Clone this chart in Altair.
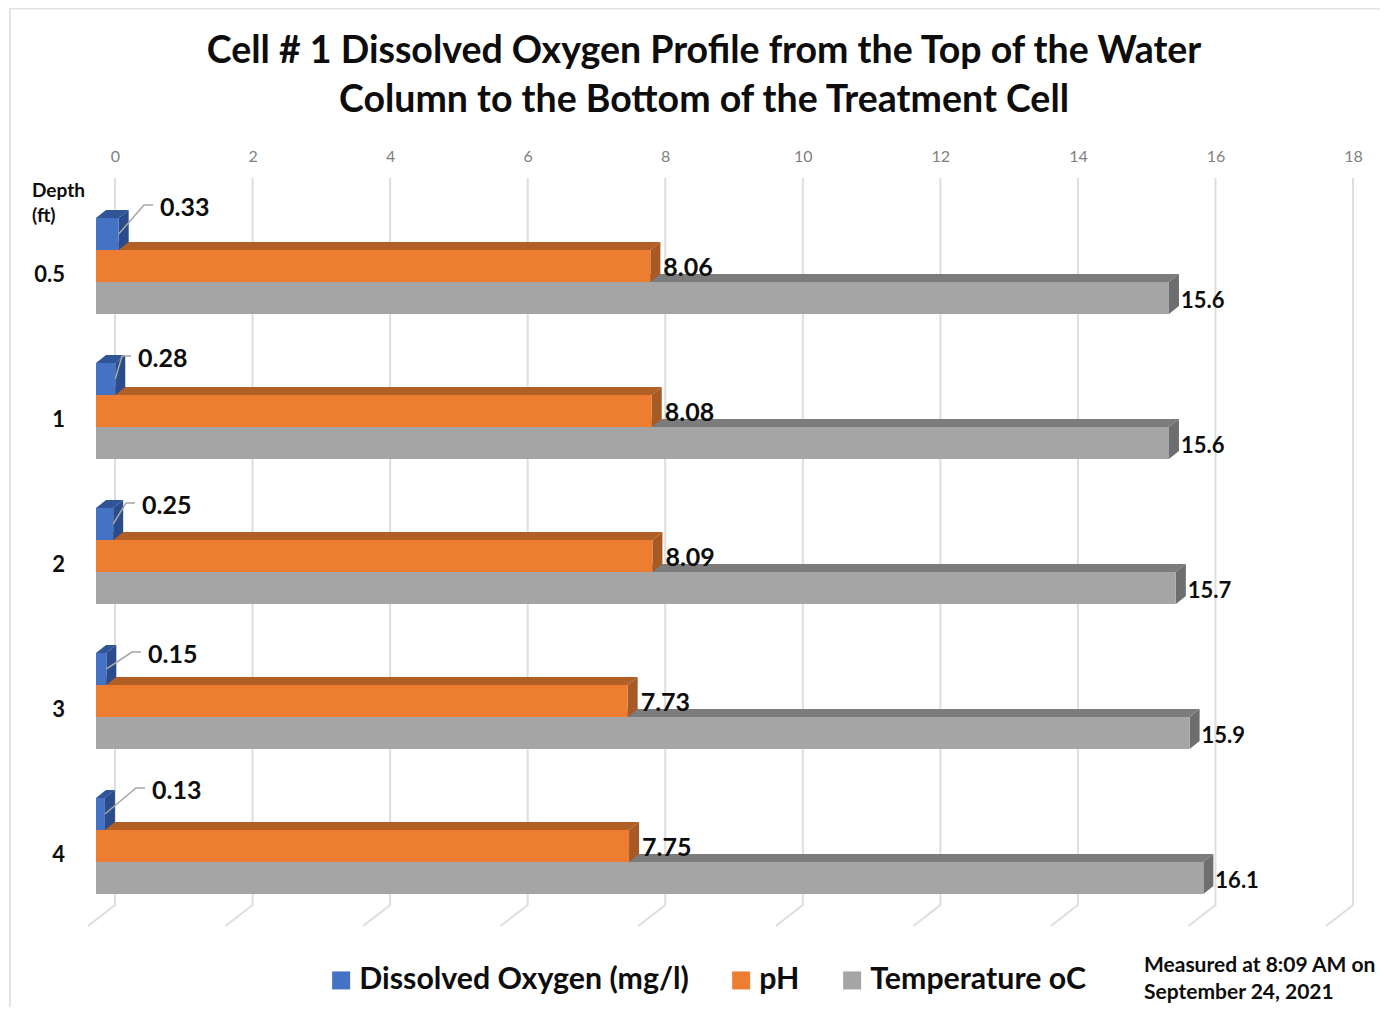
import altair as alt
import pandas as pd

# ---- data ----
DEPTHS = ["0.5", "1", "2", "3", "4"]
DISSOLVED_OXYGEN = [0.33, 0.28, 0.25, 0.15, 0.13]
PH = [8.06, 8.08, 8.09, 7.73, 7.75]
TEMPERATURE = [15.6, 15.6, 15.7, 15.9, 16.1]
X_TICKS = [0, 2, 4, 6, 8, 10, 12, 14, 16, 18]
SERIES = ["Dissolved Oxygen (mg/l)", "pH", "Temperature oC"]
TITLE = ["Cell # 1 Dissolved Oxygen Profile from the Top of the Water",
         "Column to the Bottom of the Treatment Cell"]

# ---- styling and layout ----
FRONT = ["#4472C4", "#ED7D31", "#A5A5A5"]
TOP = ["#2F5597", "#B25F26", "#7C7C7C"]
SIDE = ["#2A4C8C", "#A85A26", "#6E6E6E"]
FONT = "Lato"
INK = "#0d0d0d"
GRID = "#DEDEDE"
PAGE = 8
W, H, PAD_TOP = 1372, 842, 157
U = 68.78            # px per axis unit
X0 = 96              # px of value 0 on the front plane
ROW_TOP, ROW_STEP, BAR_H = 218, 145, 32
DX, DY = 10, 8       # bar extrusion
WALL_DX = 19         # back wall shift
DO_LABEL_X = [160, 138, 142, 148, 152]
DO_LABEL_Y = [208, 359, 506, 655, 791]


def xv(px_from_zero):
    return px_from_zero / U


def bar_faces(values, s):
    top_rows, side_rows, front_rows = [], [], []
    for r, v in enumerate(values):
        t = ROW_TOP + r * ROW_STEP + s * BAR_H
        b = t + BAR_H
        L = v * U
        for p in sorted({0, L, DX, L + DX}):
            up = t - DY * min(p / DX, 1)
            lo = t - DY * max(0, (p - L) / DX)
            top_rows.append(dict(row=r, x=xv(p), y=up, y2=lo))
        side_rows += [dict(row=r, x=v, y=t, y2=b),
                      dict(row=r, x=xv(L + DX), y=t - DY, y2=b - DY)]
        front_rows.append(dict(x=0, x2=v, y=t, y2=b, series=SERIES[s]))
    return pd.DataFrame(top_rows), pd.DataFrame(side_rows), pd.DataFrame(front_rows)


x_scale = alt.Scale(domain=[(PAGE - X0) / U, (PAGE + W - X0) / U], nice=False, zero=False)
y_scale = alt.Scale(domain=[PAGE + PAD_TOP, PAGE + PAD_TOP + H], reverse=True, nice=False, zero=False)
X = alt.X("x:Q", scale=x_scale, title=None, axis=alt.Axis(
    orient="top", values=X_TICKS, format="d", grid=False, domain=False, ticks=False,
    labelOffset=WALL_DX, labelPadding=1, labelFont=FONT, labelFontSize=16,
    labelColor="#7F7F7F", labelFlush=False, labelOverlap=False))
Y = alt.Y("y:Q", scale=y_scale, axis=None)

layers = []

# wall and floor grid
grid_rows = []
for t in X_TICKS:
    grid_rows += [dict(t=t, ord=0, x=t + xv(WALL_DX), y=178),
                  dict(t=t, ord=1, x=t + xv(WALL_DX), y=905),
                  dict(t=t, ord=2, x=t + xv(WALL_DX - 27), y=926)]
layers.append(
    alt.Chart(pd.DataFrame(grid_rows)).mark_line(color=GRID, strokeWidth=2).encode(
        x=X, y=Y, detail="t:N", order="ord:Q")
)

# bars, painted back to front
values_by_series = [DISSOLVED_OXYGEN, PH, TEMPERATURE]
color = alt.Color("series:N",
                  scale=alt.Scale(domain=SERIES, range=FRONT),
                  legend=alt.Legend(orient="none", legendX=318, legendY=800, direction="horizontal",
                                    title=None, symbolType="square", symbolSize=324, symbolStrokeWidth=0,
                                    labelFont=FONT, labelFontSize=30.3, labelFontWeight="bold",
                                    labelColor=INK, labelOffset=3, columnPadding=37, columns=3,
                                    labelLimit=600))
for s in [2, 1, 0]:
    top_df, side_df, front_df = bar_faces(values_by_series[s], s)
    layers.append(alt.Chart(top_df).mark_area(fill=TOP[s], orient="vertical").encode(
        x=X, y=Y, y2=alt.Y2("y2"), detail="row:N"))
    layers.append(alt.Chart(side_df).mark_area(fill=SIDE[s], orient="vertical").encode(
        x=X, y=Y, y2=alt.Y2("y2"), detail="row:N"))
    layers.append(alt.Chart(front_df).mark_bar().encode(
        x=X, x2="x2:Q", y=Y, y2="y2:Q", color=color))

# leader lines for the dissolved oxygen labels
leader_rows = []
for r, v in enumerate(DISSOLVED_OXYGEN):
    lx, ly = DO_LABEL_X[r], DO_LABEL_Y[r]
    leader_rows += [dict(row=r, ord=0, x=v, y=ROW_TOP + r * ROW_STEP + 16),
                    dict(row=r, ord=1, x=xv(lx - 16 - X0), y=ly - 3),
                    dict(row=r, ord=2, x=xv(lx - 7 - X0), y=ly - 3)]
layers.append(alt.Chart(pd.DataFrame(leader_rows)).mark_line(color="#A6A6A6", strokeWidth=1.5).encode(
    x=X, y=Y, detail="row:N", order="ord:Q"))

# value labels
do_df = pd.DataFrame({"x": [xv(p - X0) for p in DO_LABEL_X], "y": DO_LABEL_Y,
                      "label": [f"{v:.2f}" for v in DISSOLVED_OXYGEN]})
layers.append(alt.Chart(do_df).mark_text(font=FONT, fontWeight="bold", fontSize=25, color=INK,
                                         align="left", baseline="middle").encode(x=X, y=Y, text="label:N"))
ph_df = pd.DataFrame({"x": [v + xv(13) for v in PH],
                      "y": [ROW_TOP + r * ROW_STEP + 50 for r in range(5)],
                      "label": [f"{v:.2f}" for v in PH]})
layers.append(alt.Chart(ph_df).mark_text(font=FONT, fontWeight="bold", fontSize=25, color=INK,
                                         align="left", baseline="middle").encode(x=X, y=Y, text="label:N"))
temp_df = pd.DataFrame({"x": [v + xv(12) for v in TEMPERATURE],
                        "y": [ROW_TOP + r * ROW_STEP + 83 for r in range(5)],
                        "label": [f"{v:.1f}" for v in TEMPERATURE]})
layers.append(alt.Chart(temp_df).mark_text(font=FONT, fontWeight="bold", fontSize=22, color=INK,
                                           align="left", baseline="middle").encode(x=X, y=Y, text="label:N"))

# category labels
cat_df = pd.DataFrame({"x": [xv(65 - X0)] * 5,
                       "y": [ROW_TOP + r * ROW_STEP + 56.5 for r in range(5)],
                       "label": DEPTHS})
layers.append(alt.Chart(cat_df).mark_text(font=FONT, fontWeight="bold", fontSize=22, color=INK,
                                          align="right", baseline="middle").encode(x=X, y=Y, text="label:N"))

# free notes
note_df = pd.DataFrame({"x": [xv(32 - X0)] * 2, "y": [191, 216], "label": ["Depth", "(ft)"]})
layers.append(alt.Chart(note_df).mark_text(font=FONT, fontWeight="bold", fontSize=19, color=INK,
                                           align="left", baseline="middle").encode(x=X, y=Y, text="label:N"))
meas_df = pd.DataFrame({"x": [xv(1144 - X0)] * 2, "y": [966, 993],
                        "label": ["Measured at 8:09 AM on", "September 24, 2021"]})
layers.append(alt.Chart(meas_df).mark_text(font=FONT, fontWeight="bold", fontSize=21, color=INK,
                                           align="left", baseline="middle").encode(x=X, y=Y, text="label:N"))

# image frame
frame = pd.DataFrame({"a": [0]})
layers.append(alt.Chart(frame).mark_rule(color="#E3E3E3", strokeWidth=2).encode(
    x=alt.value(2), y=alt.value(-PAD_TOP), y2=alt.value(H)))
layers.append(alt.Chart(frame).mark_rule(color="#E3E3E3", strokeWidth=2).encode(
    x=alt.value(2), x2=alt.value(W), y=alt.value(-PAD_TOP + 0.5)))

chart = alt.layer(*layers).properties(
    width=W, height=H,
    padding={"left": 0, "top": PAD_TOP, "right": 0, "bottom": 0},
    autosize=alt.AutoSizeParams(type="none"),
    background="white",
    title=alt.TitleParams(text=TITLE, font=FONT, fontWeight="bold", fontSize=37.5, color=INK,
                          lineHeight=49, dx=10, dy=112, offset=0, anchor="middle"),
).resolve_scale(x="shared", y="shared").configure_view(stroke=None)

chart.save("out.html", embed_options={"renderer": "svg", "actions": False})
